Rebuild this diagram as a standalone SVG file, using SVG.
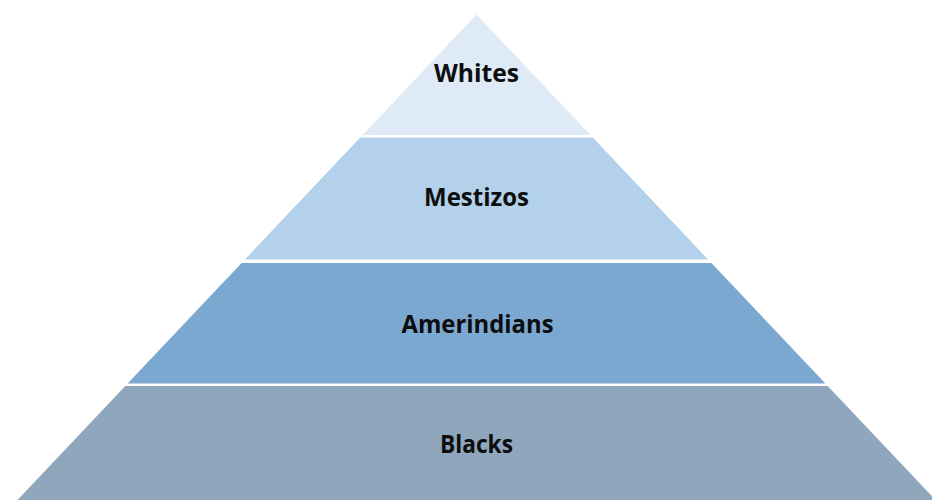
<svg xmlns="http://www.w3.org/2000/svg" width="932" height="500" viewBox="0 0 932 500">
  <style>
    .lbl { font-family: "Open Sans", "Liberation Sans", Arial, sans-serif; font-weight: bold; font-size: 25px; fill: #0d0d0d; text-anchor: middle; }
  </style>
  <rect x="0" y="0" width="932" height="500" fill="#ffffff"/>
  <g id="connectors"></g>
  <g id="whites">
    <polygon points="476.5,14.5 590.4,135 362.6,135" fill="#DEEAF6"/>
    <text class="lbl" x="476.5" y="82" textLength="85" lengthAdjust="spacingAndGlyphs">Whites</text>
  </g>
  <g id="mestizos">
    <polygon points="360.2,137.5 592.8,137.5 708.1,259.5 244.9,259.5" fill="#B4D1EB"/>
    <text class="lbl" x="476.5" y="206" textLength="105" lengthAdjust="spacingAndGlyphs">Mestizos</text>
  </g>
  <g id="amerindians">
    <polygon points="241.6,263 711.4,263 825.4,383.5 127.6,383.5" fill="#7BA8D1"/>
    <text class="lbl" x="477.5" y="333" textLength="152" lengthAdjust="spacingAndGlyphs">Amerindians</text>
  </g>
  <g id="blacks">
    <polygon points="125.3,386 827.7,386 935.5,500 17.5,500" fill="#8FA6BC"/>
    <text class="lbl" x="476.5" y="453" textLength="73" lengthAdjust="spacingAndGlyphs">Blacks</text>
  </g>
</svg>
